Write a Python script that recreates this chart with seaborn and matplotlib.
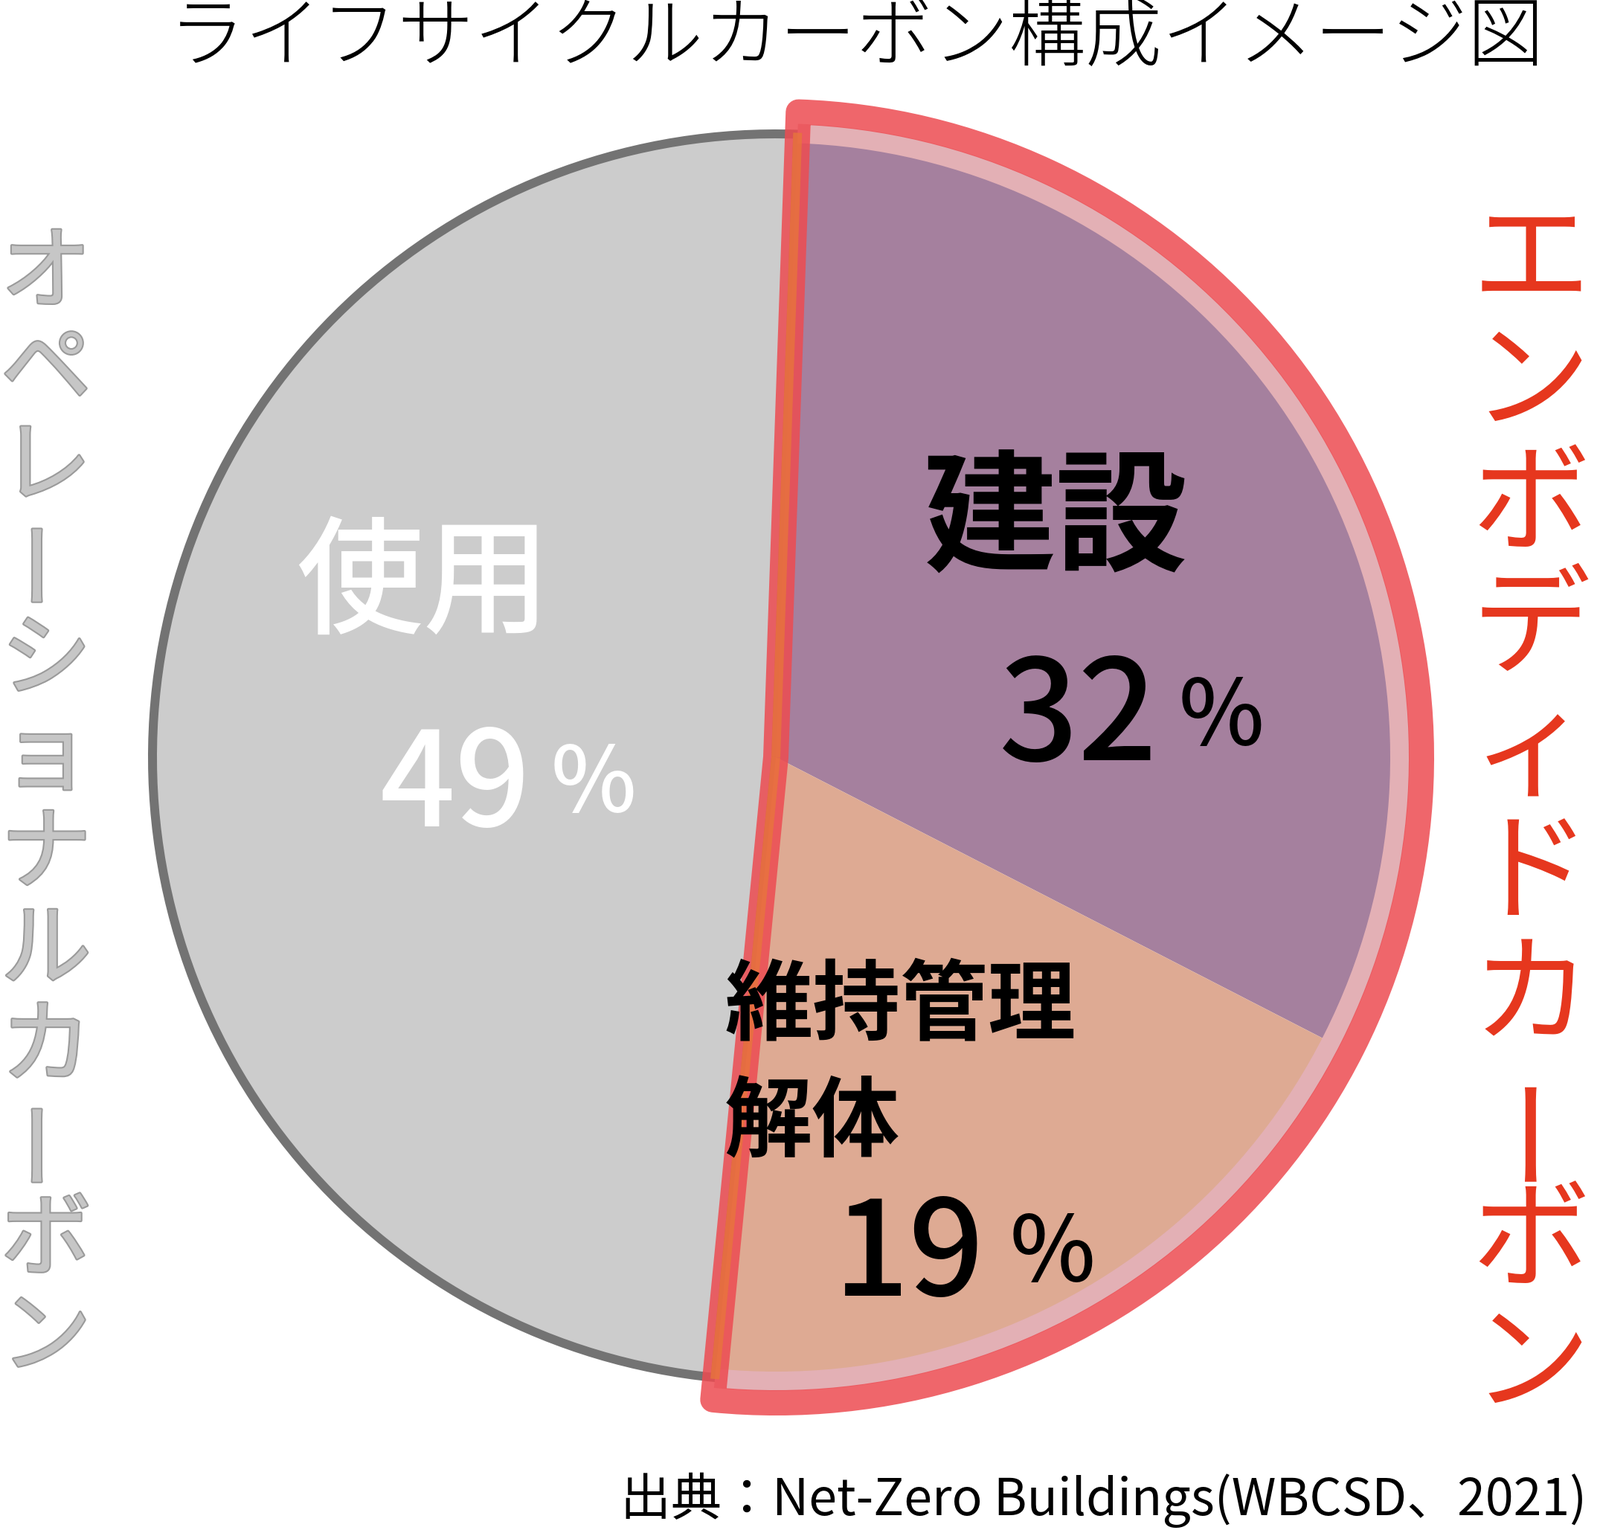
import numpy as np
import matplotlib
matplotlib.use("Agg")
import matplotlib.pyplot as plt
import matplotlib.patheffects as pe
from matplotlib.patches import Wedge
import seaborn as sns

# Chart content
categories = ["建設", "維持管理\n解体", "使用"]
shares = [32, 19, 49]
title = "ライフサイクルカーボン構成イメージ図"
left_label = "オペレーショナルカーボン"
right_label = "エンボディドカーボン"
source = "出典：Net-Zero Buildings(WBCSD、2021)"

slice_colors = ["#a5809e", "#deaa93", "#cccccc"]

sns.set_theme(style="white")
plt.rcParams["font.family"] = ["Noto Sans CJK JP", "DejaVu Sans"]

W, H = 2151, 2061
PT = 0.72  # pixels -> points at dpi 100
fig = plt.figure(figsize=(W / 100, H / 100), dpi=100)
ax = fig.add_axes([0, 0, 1, 1])

cx, cy = 1043, 1043
R = 828
start = 88

# the three slices, drawn clockwise from the top
wedges, _ = ax.pie(shares, colors=slice_colors, startangle=start, counterclock=False,
                   radius=R, center=(cx, cy), wedgeprops=dict(linewidth=0))
gray = wedges[2]
gray.set_radius(838)
gray.set_edgecolor("#737373")
gray.set_linewidth(12 * PT)
gray.set_zorder(0.9)

# outline around the embodied part (construction + maintenance)
a_end = start - sum(shares[:2]) / 100 * 360
ax.add_patch(Wedge((cx, cy), 852, a_end, start, width=26, facecolor="#e3b0b5",
                   linewidth=0, zorder=2))
ax.add_patch(Wedge((cx, cy), 868, a_end, start, fill=False, edgecolor="#ed4b51",
                   alpha=0.85, linewidth=34 * PT, joinstyle="round", zorder=3))
for a in (start, a_end):
    t = np.deg2rad(a)
    ax.plot([cx, cx + 840 * np.cos(t)], [cy, cy + 840 * np.sin(t)], color="#e8773a",
            lw=12 * PT, alpha=0.75, solid_capstyle="butt", zorder=4)

ax.set_xlim(0, W)
ax.set_ylim(0, H)
ax.set_aspect("auto")
ax.axis("off")

# slice labels
ax.text(1420, 1359, categories[0], fontsize=128, fontweight="bold", color="black",
        ha="center", va="center", zorder=5)
ax.text(1557, 1039, str(shares[0]), fontsize=135, fontweight="medium", color="black",
        ha="right", va="baseline", zorder=5)
ax.text(1585, 1060, "%", fontsize=88, fontweight="medium", color="black",
        ha="left", va="baseline", zorder=5)

ax.text(569, 1272, categories[2], fontsize=123, fontweight="medium", color="white",
        ha="center", va="center", zorder=5)
ax.text(713, 950, str(shares[2]), fontsize=128, fontweight="medium", color="white",
        ha="right", va="baseline", zorder=5)
ax.text(741, 970, "%", fontsize=88, fontweight="medium", color="white",
        ha="left", va="baseline", zorder=5)

line1, line2 = categories[1].split("\n")
ax.text(974, 706, line1, fontsize=85, fontweight="bold", color="black",
        ha="left", va="center", zorder=5)
ax.text(974, 549, line2, fontsize=85, fontweight="bold", color="black",
        ha="left", va="center", zorder=5)
ax.text(1324, 319, str(shares[1]), fontsize=128, fontweight="medium", color="black",
        ha="right", va="baseline", zorder=5)
ax.text(1358, 339, "%", fontsize=88, fontweight="medium", color="black",
        ha="left", va="baseline", zorder=5)

# title and source
ax.text(1152, 2009, title, fontsize=74, fontweight="light", color="black",
        ha="center", va="center")
ax.text(2133, 44, source, fontsize=49, fontweight="normal", color="black",
        ha="right", va="center")


# vertical side labels, one character at a time
def vertical_text(s, x, y_top, pitch, **kw):
    for i, ch in enumerate(s):
        rot = 90 if ch == "ー" else 0
        ax.text(x, y_top - i * pitch, ch, rotation=rot, ha="center", va="center", **kw)


vertical_text(left_label, 62, 1691, 130, fontsize=88, color="#c6c6c6",
              path_effects=[pe.withStroke(linewidth=3, foreground="#9a9a9a")])
vertical_text(right_label, 2058, 1708, 165, fontsize=115, color="#e6371e")

plt.savefig("out.png", dpi=100)
